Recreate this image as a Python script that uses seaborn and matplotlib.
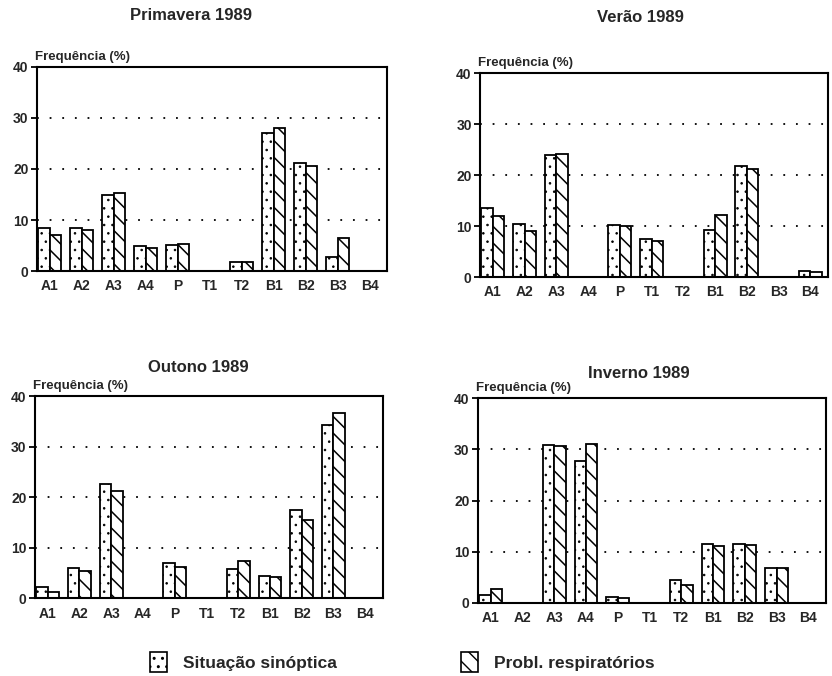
import numpy as np
import pandas as pd
import matplotlib
matplotlib.use("Agg")
import matplotlib.pyplot as plt
import matplotlib.patches as mpatches
import seaborn as sns

# categories (synoptic types)
tipos = ['A1', 'A2', 'A3', 'A4', 'P', 'T1', 'T2', 'B1', 'B2', 'B3', 'B4']
series = ['Situação sinóptica', 'Probl. respiratórios']

# frequencies (%)
prim_sit = [8.5, 8.5, 15.0, 5.0, 5.2, 0, 1.8, 27.0, 21.2, 2.8, 0]
prim_resp = [7.0, 8.0, 15.2, 4.6, 5.4, 0, 1.8, 28.0, 20.5, 6.5, 0]
verao_sit = [13.5, 10.5, 24.0, 0, 10.3, 7.4, 0, 9.2, 21.8, 0, 1.3]
verao_resp = [12.0, 9.0, 24.2, 0, 10.1, 7.1, 0, 12.1, 21.2, 0, 1.1]
outono_sit = [2.3, 6.0, 22.7, 0, 6.9, 0, 5.8, 4.4, 17.5, 34.2, 0]
outono_resp = [1.3, 5.3, 21.2, 0, 6.2, 0, 7.3, 4.3, 15.5, 36.7, 0]
inverno_sit = [1.5, 0, 30.9, 27.7, 1.2, 0, 4.4, 11.6, 11.6, 6.8, 0]
inverno_resp = [2.7, 0, 30.6, 31.1, 0.9, 0, 3.6, 11.2, 11.4, 6.8, 0]

sns.set_theme(style='white')
plt.rcParams['font.family'] = ['Liberation Sans', 'DejaVu Sans']
plt.rcParams['font.weight'] = 'bold'

fig = plt.figure(figsize=(8.32, 6.76), dpi=100)

paineis = [
    ('Primavera 1989', prim_sit, prim_resp, [0.0445, 0.599, 0.421, 0.302], (191, 15)),
    ('Verão 1989', verao_sit, verao_resp, [0.577, 0.590, 0.418, 0.302], (640, 18)),
    ('Outono 1989', outono_sit, outono_resp, [0.042, 0.115, 0.418, 0.299], (198, 368)),
    ('Inverno 1989', inverno_sit, inverno_resp, [0.5745, 0.108, 0.418, 0.303], (639, 373)),
]
hatches = ['..', '\\\\']
hatch_lw = [0.6, 1.1]

for titulo, sit, resp, pos, tpos in paineis:
    df = pd.DataFrame({
        'tipo': tipos * 2,
        'serie': [series[0]] * len(tipos) + [series[1]] * len(tipos),
        'freq': sit + resp,
    })
    ax = fig.add_axes(pos)
    sns.barplot(data=df, x='tipo', y='freq', hue='serie', order=tipos,
                hue_order=series, width=0.72, palette=['white', 'white'],
                edgecolor='black', linewidth=1.3, legend=False, ax=ax)
    for cont, h, hl in zip(ax.containers, hatches, hatch_lw):
        for bar in cont:
            bar.set_hatch(h)
            bar.set_hatch_linewidth(hl)
    ax.set_ylim(0, 40)
    ax.set_xlim(-0.4, 10.55)
    ax.set_yticks([0, 10, 20, 30, 40])
    for y in [10, 20, 30]:
        ax.axhline(y, color='black', lw=1.3, ls=(0, (1, 6)), zorder=0)
    for s in ax.spines.values():
        s.set_visible(True)
        s.set_color('black')
        s.set_linewidth(1.5)
    ax.tick_params(axis='y', length=4, width=1.3, color='black', labelsize=10, pad=2, left=True)
    ax.tick_params(axis='x', length=0, labelsize=10, pad=6)
    for lab in ax.get_xticklabels() + ax.get_yticklabels():
        lab.set_fontweight('heavy')
    ax.set_xlabel('')
    ax.set_ylabel('')
    ax.text(-0.005, 1.05, 'Frequência (%)', transform=ax.transAxes, ha='left', va='center',
            fontsize=9.5, fontweight='heavy')
    fig.text(tpos[0] / 832, 1 - tpos[1] / 676, titulo, ha='center', va='center',
             fontsize=12, fontweight='heavy')

# legend entries placed separately, as in the original layout
for h, hl, nome, xpos in zip(hatches, hatch_lw, series, [141, 452]):
    p = mpatches.Patch(facecolor='white', edgecolor='black', hatch=h, lw=1.2)
    p.set_hatch_linewidth(hl)
    fig.legend([p], [nome], loc='center left', bbox_to_anchor=(xpos / 832, 1 - 662 / 676),
               frameon=False, handlelength=1.0, handleheight=1.35, handletextpad=0.9,
               borderpad=0, prop={'weight': 'heavy', 'size': 12.5})

fig.savefig('out.png', dpi=100)
